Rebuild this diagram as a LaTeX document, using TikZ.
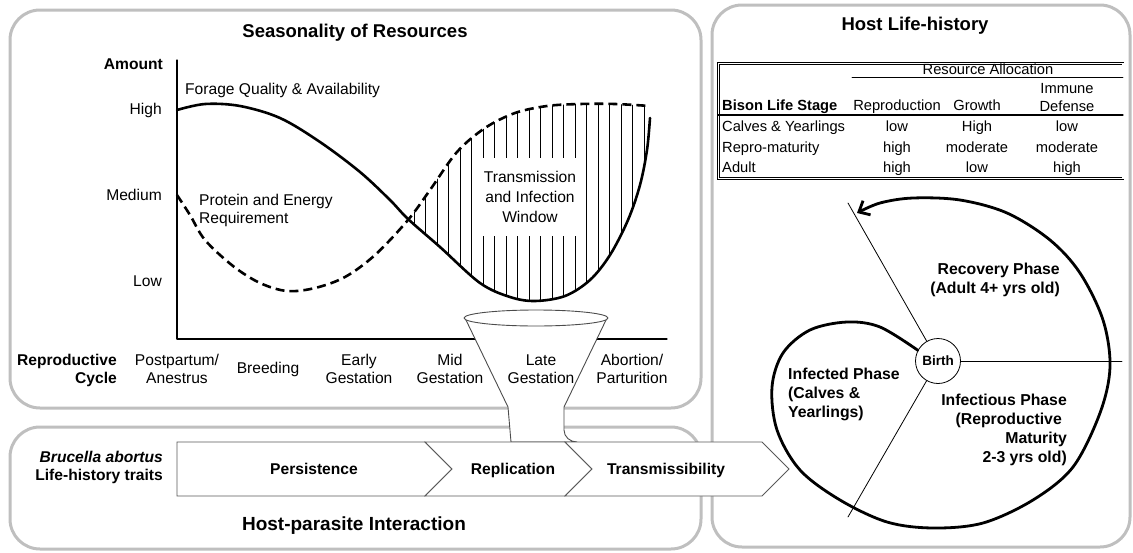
\documentclass[tikz,border=0pt]{standalone}
\usepackage{fontspec}
\setmainfont{Liberation Sans}
\usetikzlibrary{arrows.meta}
\newcommand\txtsize{\fontsize{15.6}{18}\selectfont}
\newcommand\headsize{\fontsize{18.5}{22}\selectfont}
\newcommand\tabsize{\fontsize{14.7}{18}\selectfont}
\newcommand\phasesize{\fontsize{15.8}{19}\selectfont}
\newcommand\foragecurve{plot[smooth,tension=0.55] coordinates {(177,110) (205,104) (240,106) (280,118) (320,142) (360,172) (390,200) (408,219) (440,247) (480,283) (510,297) (535,301) (565,296) (590,280) (610,255) (628,220) (640,185) (647,150) (650,118)}}
\newcommand\reqcurve{plot[smooth,tension=0.55] coordinates {(177,195) (190,215) (205,240) (233,266) (260,283) (287,291) (315,288) (345,277) (375,255) (408,220) (430,190) (457,152) (485,128) (515,113) (547,106) (580,104) (615,104) (650,106)}}
\begin{document}
\begin{tikzpicture}[x=1pt, y=-1pt, font=\txtsize, line join=round, line cap=round,
		panel/.style={draw=black!25, line width=3pt, rounded corners=30pt},
		lbl/.style={inner sep=0pt},
		bold/.style={inner sep=0pt, font=\txtsize\bfseries},
		head/.style={inner sep=0pt, font=\headsize\bfseries},
		tab/.style={inner sep=0pt, font=\tabsize},
		row/.style={tab, text height=10.5pt, text depth=3pt},
		phase/.style={inner sep=0pt, font=\phasesize\bfseries},
		chev/.style={draw=black!65, fill=white, line width=0.8pt, line join=miter},
		chevtext/.style={bold, text height=11pt, text depth=3pt},
		funnel/.style={draw=black!70, fill=white, line width=0.9pt},
		curve/.style={line width=2.6pt},
		hatch/.style={line width=0.8pt}]
	\useasboundingbox (0,0) rectangle (1133,552);
	\draw[panel] (10,10) rectangle (701,408);
	\draw[panel] (10,427) rectangle (701,549);
	\draw[panel] (712,5) rectangle (1130,547);
	\path
	(177,60) coordinate (ytop)
	(177,339) coordinate (O)
	(667,339) coordinate (xend)
	;
	\node[head] (season) at (355,33) {Seasonality of Resources};
	\node[bold, anchor=east] (amount) at (163,64) {Amount};
	\foreach \t/\y in {High/110,Medium/195,Low/281}
		{\node[lbl, anchor=east] (\t) at (162,\y) {\t};}
	\begin{scope}
		\clip \reqcurve -- (650,400) -- (177,400) -- cycle;
		\clip \foragecurve -- (650,0) -- (177,0) -- cycle;
		\foreach \x in {414,425.5,...,645}
			{\draw[hatch] (\x,90) -- (\x,310);}
	\end{scope}
	\draw[curve] \foragecurve;
	\draw[curve, dash pattern=on 9pt off 5pt, line cap=butt] \reqcurve;
	\draw[line width=1.2pt] (ytop) -- (O) -- (xend);
	\node[lbl, anchor=west] (forage) at (185,90) {Forage Quality \& Availability};
	\node[lbl, anchor=west, align=left] (protein) at (199,210) {Protein and Energy\\Requirement};
	\node[lbl, fill=white, align=center, inner xsep=4pt, inner ysep=13pt, font=\fontsize{15.6}{20}\selectfont] (window) at (530,197) {Transmission\\and Infection\\Window};
	\path
	(465,318) coordinate (FL)
	(607,318) coordinate (FR)
	(508,407) coordinate (NL)
	(564,407) coordinate (NR)
	(511,442) coordinate (BL)
	(577,442) coordinate (BR)
	;
	\draw[funnel] (BL) -- (NL) -- (FL) -- (FR) -- (NR) -- (564,430) to[out=-90, in=180] (BR) -- cycle;
	\draw[funnel] (536,318) ellipse [x radius=72, y radius=8];
	\foreach \n/\x/\t in {post/177/{Postpartum/\\Anestrus},breed/268/Breeding,early/359/{Early\\Gestation},mid/450/{Mid\\Gestation},late/541/{Late\\Gestation},abort/632/{Abortion/\\Parturition}}
		{\node[lbl, align=center] (\n) at (\x,369) {\t};}
	\node[bold, align=right, anchor=east] (cycle) at (117,370) {Reproductive\\Cycle};
	\draw[chev] (177,442) -- (425,442) -- (452,469) -- (425,496) -- (177,496) -- cycle;
	\foreach \a/\b in {425/565,565/762}
		{\draw[chev] (\a,442) -- (\b,442) -- (\b+27,469) -- (\b,496) -- (\a,496) -- (\a+27,469) -- cycle;}
	\node[chevtext] (persist) at (314,470) {Persistence};
	\node[chevtext] (repl) at (513,470) {Replication};
	\node[chevtext] (trans) at (666,470) {Transmissibility};
	\node[bold, align=right, anchor=east] (brucella) at (163,467) {\textit{Brucella abortus}\\Life-history traits};
	\node[head, font=\fontsize{19}{22}\selectfont\bfseries] (hostpar) at (354,526) {Host-parasite Interaction};
	\node[head] (hostlife) at (915,26) {Host Life-history};
	\draw[double, double distance=1.6pt, line width=0.6pt, line join=miter] (718.5,63.5) rectangle (1123,178.5);
	\path
	(852,77) coordinate (ul)
	(1123,77) coordinate (ur)
	(718,115) coordinate (hl)
	(1123,115) coordinate (hr)
	;
	\draw[line width=0.8pt] (ul) -- (ur);
	\draw[line width=1.2pt] (hl) -- (hr);
	\node[row] (alloc) at (988,71) {Resource Allocation};
	\node[tab, align=center] (immune) at (1067,98) {Immune\\Defense};
	\node[row, font=\tabsize\bfseries, anchor=west] (stage) at (722,107) {Bison Life Stage};
	\node[row] (repro) at (897,107) {Reproduction};
	\node[row] (growth) at (977,107) {Growth};
	\foreach \r/\y/\s/\a/\b/\c in {calf/128/Calves \& Yearlings/low/High/low,mature/148.5/Repro-maturity/high/moderate/moderate,adult/169/Adult/high/low/high}
		{\node[row, anchor=west] (\r) at (722,\y) {\s};
		\node[row] (\r-r) at (897,\y) {\a};
		\node[row] (\r-g) at (977,\y) {\b};
		\node[row] (\r-i) at (1067,\y) {\c};}
	\node[draw, circle, fill=white, minimum size=45pt, inner sep=0pt, line width=0.8pt, font=\fontsize{13.5}{16}\selectfont\bfseries] (birth) at (938,361) {Birth};
	\path
	(848,203) coordinate (rtop)
	(848,517) coordinate (rbot)
	(1122,361) coordinate (rright)
	;
	\foreach \e in {rtop,rbot,rright}
		{\draw[line width=0.8pt] (birth) -- (\e);}
	\draw[line width=2.8pt, -{Straight Barb[length=9pt,width=16pt]}] plot[smooth, tension=0.55] coordinates {(birth.152) (880,327) (847,322) (810,330) (783,353) (772,387) (777,430) (800,470) (840,500) (887,522) (933,528) (983,523) (1033,500) (1073,467) (1100,413) (1110,367) (1103,320) (1080,273) (1050,240) (1007,213) (960,200) (913,198) (880,203) (857,213)};
	\node[phase, align=right, anchor=east] (recovery) at (1060,280) {Recovery Phase\\(Adult 4+ yrs old)};
	\node[phase, align=left, anchor=west] (infected) at (788,394) {Infected Phase\\(Calves \&\\Yearlings)};
	\node[phase, align=right, anchor=east] (infectious) at (1067,430) {Infectious Phase\\(Reproductive\kern5pt\\Maturity\\2-3 yrs old)};
\end{tikzpicture}
\end{document}
